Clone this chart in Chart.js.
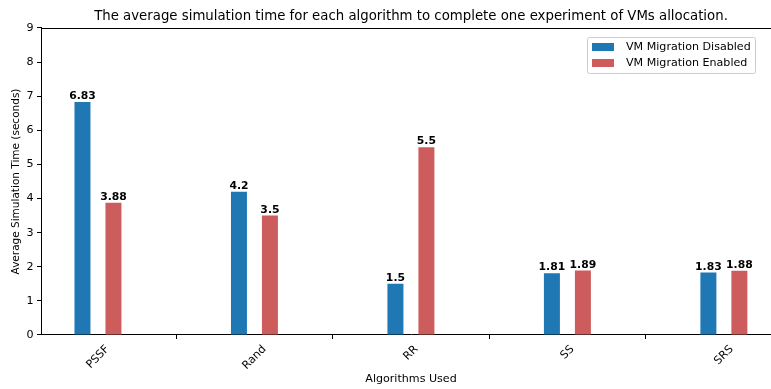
<!DOCTYPE html>
<html>
<head>
<meta charset="utf-8">
<script src="https://cdn.jsdelivr.net/npm/chart.js@4/dist/chart.umd.min.js"></script>
<style>
  html, body { margin: 0; padding: 0; background: #fff; overflow: hidden; }
  #wrap { position: absolute; left: 0; top: 0; width: 822px; height: 389px; }
</style>
</head>
<body>
<div id="wrap"><canvas id="c" width="822" height="389"></canvas></div>
<script>
// Algorithms compared and their average simulation times (seconds)
const algorithms = ['PSSF', 'Rand', 'RR', 'SS', 'SRS'];
const migrationDisabled = [6.83, 4.2, 1.5, 1.81, 1.83];
const migrationEnabled = [3.88, 3.5, 5.5, 1.89, 1.88];
const seriesNames = ['VM Migration Disabled', 'VM Migration Enabled'];
const yTicks = [0, 1, 2, 3, 4, 5, 6, 7, 8, 9];

const FONT = "'DejaVu Sans', 'Liberation Sans', sans-serif";
const BLUE = '#1f77b4';
const RED = '#cd5c5c';
const BASE = 11.1;

const toPoints = vals => vals.map((v, i) => ({ x: i, y: v }));

// Value labels above every bar
const valueLabels = {
  id: 'valueLabels',
  afterDatasetsDraw(chart) {
    const ctx = chart.ctx;
    ctx.save();
    ctx.font = `bold 10.8px ${FONT}`;
    ctx.fillStyle = '#000';
    ctx.textAlign = 'center';
    ctx.textBaseline = 'alphabetic';
    chart.data.datasets.forEach((ds, di) => {
      chart.getDatasetMeta(di).data.forEach((bar, i) => {
        ctx.fillText(String(ds.data[i].y), bar.x, bar.y - 3);
      });
    });
    ctx.restore();
  }
};

// Top spine, rotated category labels and the boxed legend
const frame = {
  id: 'frame',
  afterDraw(chart) {
    const ctx = chart.ctx;
    const area = chart.chartArea;
    ctx.save();
    ctx.strokeStyle = '#000';
    ctx.lineWidth = 1;
    ctx.beginPath();
    ctx.moveTo(area.left, Math.round(area.top) + 0.5);
    ctx.lineTo(area.right, Math.round(area.top) + 0.5);
    ctx.stroke();

    // category labels, rotated 45 degrees and centred under each tick
    const xs = chart.scales.x;
    ctx.font = `${BASE}px ${FONT}`;
    ctx.fillStyle = '#000';
    ctx.textAlign = 'center';
    ctx.textBaseline = 'middle';
    const h = BASE * 1.16;
    algorithms.forEach((name, i) => {
      const px = xs.getPixelForValue(i);
      const w = ctx.measureText(name).width;
      const half = (w + h) * Math.SQRT1_2 / 2;
      ctx.save();
      ctx.translate(px, area.bottom + 8 + half);
      ctx.rotate(-Math.PI / 4);
      ctx.fillText(name, 0, 0);
      ctx.restore();
    });

    // legend
    const lx = 587, ly = 37, lw = 168, lh = 36;
    ctx.fillStyle = 'rgba(255,255,255,0.8)';
    ctx.strokeStyle = '#cccccc';
    ctx.beginPath();
    ctx.roundRect(lx + 0.5, ly + 0.5, lw, lh, 2);
    ctx.fill();
    ctx.stroke();
    const colors = [BLUE, RED];
    ctx.font = `${BASE}px ${FONT}`;
    ctx.textAlign = 'left';
    ctx.textBaseline = 'middle';
    seriesNames.forEach((name, i) => {
      const cy = ly + 10 + i * 16;
      ctx.fillStyle = colors[i];
      ctx.fillRect(592, cy - 4, 22, 8);
      ctx.fillStyle = '#000';
      ctx.fillText(name, 626, cy);
    });
    ctx.restore();
  }
};

new Chart(document.getElementById('c'), {
  type: 'bar',
  data: {
    datasets: [
      { label: seriesNames[0], data: toPoints(migrationDisabled), backgroundColor: BLUE },
      { label: seriesNames[1], data: toPoints(migrationEnabled), backgroundColor: RED }
    ]
  },
  options: {
    responsive: false,
    animation: false,
    events: [],
    categoryPercentage: 0.396,
    barPercentage: 0.516,
    layout: { padding: { left: 0, right: 41, top: 0, bottom: 0 } },
    plugins: {
      legend: { display: false },
      tooltip: { enabled: false },
      title: {
        display: true,
        fullSize: false,
        text: 'The average simulation time for each algorithm to complete one experiment of VMs allocation.',
        color: '#000',
        font: { family: FONT, size: 13.3, weight: 'normal', lineHeight: 1.2 },
        padding: { top: 9, bottom: 3 }
      }
    },
    scales: {
      x: {
        type: 'linear',
        min: -0.364,
        max: 4.365,
        offset: false,
        afterBuildTicks: s => { s.ticks = algorithms.map((_, i) => ({ value: i })); },
        afterFit: s => { s.height = 54; },
        ticks: { display: false },
        grid: { drawOnChartArea: false, drawTicks: true, tickLength: 4, color: '#000', lineWidth: 1 },
        border: { display: true, color: '#000', width: 1 },
        title: {
          display: true,
          text: 'Algorithms Used',
          color: '#000',
          font: { family: FONT, size: BASE, lineHeight: 1.2 },
          padding: { top: 0, bottom: 3.4 }
        }
      },
      y: {
        min: 0,
        max: 9,
        afterBuildTicks: s => { s.ticks = yTicks.map(v => ({ value: v })); },
        afterFit: s => { s.width = 41; },
        ticks: { color: '#000', font: { family: FONT, size: BASE }, padding: 3.5 },
        grid: { drawOnChartArea: false, drawTicks: true, tickLength: 4, color: '#000', lineWidth: 1 },
        border: { display: true, color: '#000', width: 1 },
        title: {
          display: true,
          text: 'Average Simulation Time (seconds)',
          color: '#000',
          font: { family: FONT, size: 10.5, lineHeight: 1.2 },
          padding: { top: 9.7, bottom: 0 }
        }
      }
    }
  },
  plugins: [valueLabels, frame]
});
</script>
</body>
</html>
